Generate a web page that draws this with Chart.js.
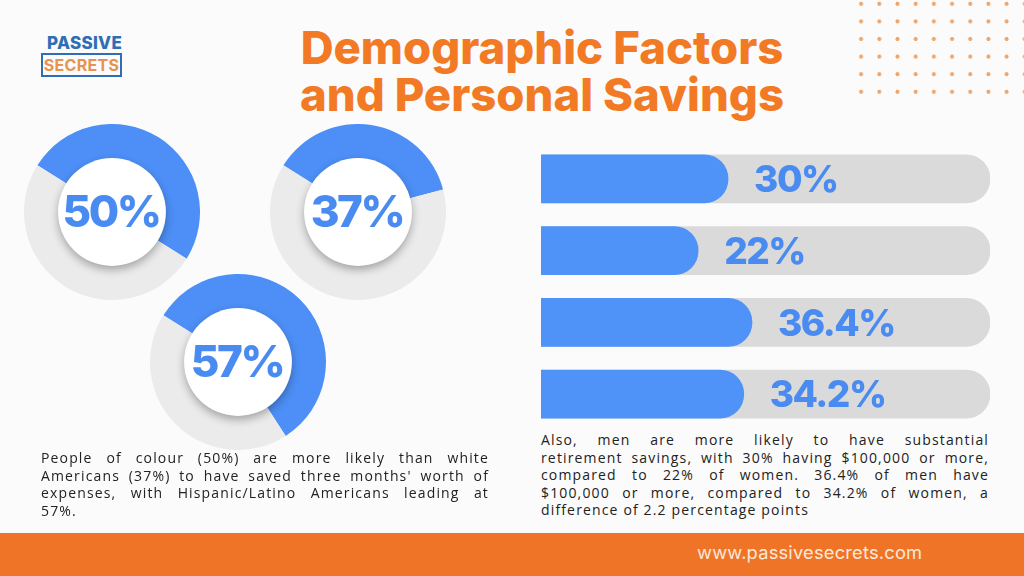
<!DOCTYPE html>
<html>
<head>
<meta charset="utf-8">
<script src="https://cdn.jsdelivr.net/npm/chart.js@4.4.0/dist/chart.umd.min.js"></script>
<style>
  body { margin:0; width:1024px; height:576px; overflow:hidden; background:#fbfbfb; position:relative; font-family:'Open Sans', sans-serif; }
  .abs { position:absolute; }
  .title { left:0; width:1084px; top:24px; text-align:center; color:#f27a24; font-family:Inter, sans-serif; font-weight:800; font-size:45.5px; line-height:47px; letter-spacing:0px; }
  .logo1 { left:47px; top:33px; color:#2f6db5; font-family:Inter, sans-serif; font-weight:800; font-size:17px; letter-spacing:0.3px; }
  .logo2 { left:41px; top:53px; width:77px; height:20px; border:2px solid #2f6db5; color:#e9924f; font-family:Inter, sans-serif; font-weight:700; font-size:16px; line-height:20px; text-align:center; letter-spacing:0.3px; }
  .dots { left:852px; top:-5px; width:180px; height:100px;
    background-image: radial-gradient(circle, #eea56a 1.7px, transparent 2.3px);
    background-size:18.2px 17.6px; }
  .para { color:#222; font-size:14px; line-height:17.6px; letter-spacing:1.15px; }
  .para div { white-space:nowrap; text-align:justify; text-align-last:justify; }
  .para div.last { text-align-last:left; }
  .footer { left:0; top:533px; width:1024px; height:43px; background:#f07428; }
  .url { left:697px; top:541px; color:#fbe9d9; font-family:Inter, sans-serif; font-size:18.3px; letter-spacing:0.2px; }
</style>
</head>
<body>
<div class="abs dots"></div>
<div class="abs logo1">PASSIVE</div>
<div class="abs logo2">SECRETS</div>
<div class="abs title">Demographic Factors<br>and Personal Savings</div>

<canvas id="d0" class="abs" width="176" height="176" style="left:24px;top:124px"></canvas>
<canvas id="d1" class="abs" width="176" height="176" style="left:270px;top:124px"></canvas>
<canvas id="d2" class="abs" width="176" height="176" style="left:150px;top:274px"></canvas>
<canvas id="bars" class="abs" width="449" height="287" style="left:541px;top:143px"></canvas>

<div class="abs para" style="left:41px;top:449px;width:448px">
  <div>People of colour (50%) are more likely than white</div>
  <div>Americans (37%) to have saved three months' worth of</div>
  <div>expenses, with Hispanic/Latino Americans leading at</div>
  <div class="last">57%.</div>
</div>
<div class="abs para" style="left:541px;top:431px;width:448px">
  <div>Also, men are more likely to have substantial</div>
  <div>retirement savings, with 30% having $100,000 or more,</div>
  <div>compared to 22% of women. 36.4% of men have</div>
  <div>$100,000 or more, compared to 34.2% of women, a</div>
  <div class="last">difference of 2.2 percentage points</div>
</div>

<div class="abs footer"></div>
<div class="abs url">www.passivesecrets.com</div>

<script>
// donuts: share who saved three months of expenses
const donutLabels = ['People of colour', 'White Americans', 'Hispanic/Latino Americans'];
const donutValues = [50, 37, 57];

// bars: retirement savings by gender
const barLabels = ['Men, substantial savings', 'Women, substantial savings', 'Men, $100,000+', 'Women, $100,000+'];
const barValues = [30, 22, 36.4, 34.2];
const trackValues = [100, 100, 100, 100];

const BLUE = '#4d8ff6';
const TEXT_BLUE = '#4a8bf2';

const centerDisc = {
  id: 'centerDisc',
  afterDatasetsDraw(chart, args, opts) {
    const ctx = chart.ctx;
    const arc = chart.getDatasetMeta(0).data[0];
    ctx.save();
    ctx.shadowColor = 'rgba(0,0,0,0.3)';
    ctx.shadowBlur = 9;
    ctx.shadowOffsetY = 4;
    ctx.fillStyle = '#ffffff';
    ctx.beginPath();
    ctx.arc(arc.x, arc.y, arc.innerRadius + 2, 0, Math.PI * 2);
    ctx.fill();
    ctx.restore();

    ctx.save();
    ctx.fillStyle = TEXT_BLUE;
    ctx.font = '800 44px Inter';
    ctx.letterSpacing = '-2.5px';
    ctx.textAlign = 'center';
    ctx.textBaseline = 'middle';
    ctx.fillText(opts.text, arc.x - 1, arc.y + 2);
    ctx.restore();
  }
};

donutValues.forEach((v, i) => {
  new Chart(document.getElementById('d' + i), {
    type: 'doughnut',
    data: {
      labels: [donutLabels[i], 'Other'],
      datasets: [{
        data: [v, 100 - v],
        backgroundColor: [BLUE, '#ebebeb'],
        borderWidth: 0,
      }],
    },
    options: {
      responsive: false,
      animation: false,
      rotation: -58,
      cutout: '59%',
      layout: { padding: 0 },
      plugins: {
        legend: { display: false },
        tooltip: { enabled: false },
        centerDisc: { text: v + '%' },
      },
    },
    plugins: [centerDisc],
  });
});

const barText = {
  id: 'barText',
  afterDatasetsDraw(chart) {
    const ctx = chart.ctx;
    chart.getDatasetMeta(0).data.forEach((bar, i) => {
      ctx.save();
      ctx.fillStyle = TEXT_BLUE;
      ctx.font = '800 37px Inter';
      ctx.letterSpacing = '-1.5px';
      ctx.textAlign = 'left';
      ctx.textBaseline = 'middle';
      ctx.fillText(barValues[i] + '%', bar.x + 26, bar.y + 2);
      ctx.restore();
    });
  }
};

new Chart(document.getElementById('bars'), {
  type: 'bar',
  data: {
    labels: barLabels,
    datasets: [
      {
        data: barValues,
        backgroundColor: '#4f93f8',
        base: -20,
        borderRadius: 24,
        borderSkipped: 'start',
        barThickness: 48,
        grouped: false,
      },
      {
        data: trackValues,
        backgroundColor: '#dadada',
        base: -20,
        borderRadius: 24,
        borderSkipped: 'start',
        barThickness: 48,
        grouped: false,
      },
    ],
  },
  options: {
    indexAxis: 'y',
    responsive: false,
    animation: false,
    layout: { padding: 0 },
    scales: {
      x: { display: false, min: -20, max: 100 },
      y: { display: false },
    },
    plugins: {
      legend: { display: false },
      tooltip: { enabled: false },
    },
  },
  plugins: [barText],
});
</script>
</body>
</html>
